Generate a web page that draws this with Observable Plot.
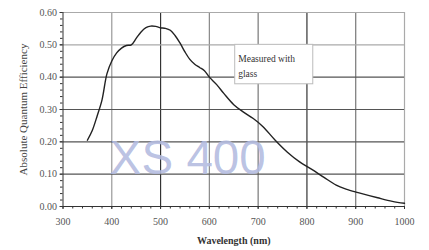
<!DOCTYPE html>
<html>
<head>
<meta charset="utf-8">
<script src="https://cdn.jsdelivr.net/npm/d3@7"></script>
<script src="https://cdn.jsdelivr.net/npm/@observablehq/plot@0.6"></script>
<style>
  html, body { margin: 0; padding: 0; background: #fff; }
  #chart svg { display: block; }
</style>
</head>
<body>
<div id="chart"></div>
<script>
// Wavelength (nm) and absolute quantum efficiency
const wavelength = [350, 360, 370, 380, 390, 400, 410, 420, 430, 440, 450, 460, 470, 480, 490, 500, 510, 520, 530, 540, 550, 560, 570, 580, 590, 600, 615, 630, 650, 670, 690, 710, 735, 760, 785, 810, 835, 860, 880, 905, 945, 975, 1000];
const efficiency = [0.205, 0.235, 0.28, 0.33, 0.41, 0.45, 0.475, 0.49, 0.498, 0.50, 0.52, 0.54, 0.553, 0.558, 0.557, 0.553, 0.551, 0.545, 0.528, 0.505, 0.478, 0.455, 0.44, 0.43, 0.42, 0.40, 0.377, 0.349, 0.315, 0.292, 0.272, 0.247, 0.205, 0.168, 0.138, 0.115, 0.09, 0.066, 0.054, 0.043, 0.027, 0.016, 0.010];

const xTicks = [300, 400, 500, 600, 700, 800, 900, 1000];
const yTicks = [0, 0.1, 0.2, 0.3, 0.4, 0.5, 0.6];
const xGridColor = ["#999", "#333", "#888", "#777", "#333", "#777", "#aaa"]; // 400..1000
const yGridColor = ["#555", "#555", "#555", "#555", "#aaa", "#aaa"];           // 0.1..0.6
const noteLines = "Measured with\nglass";
const noteBox = {x1: 653, x2: 813, y1: 0.378, y2: 0.50};
const watermark = {text: "XS 400", x: 396, y: 0.10};
const xLabel = "Wavelength (nm)";
const yLabel = "Absolute Quantum Efficiency";

const data = wavelength.map((w, i) => ({w, e: efficiency[i]}));
const xGrid = xTicks.slice(1).map((v, i) => ({v, c: xGridColor[i]}));
const yGrid = yTicks.slice(1).map((v, i) => ({v, c: yGridColor[i]}));

const serif = "'Liberation Serif', 'DejaVu Serif', serif";

const chart = Plot.plot({
  width: 429,
  height: 250,
  marginLeft: 62.5,
  marginRight: 25,
  marginTop: 12,
  marginBottom: 44,
  style: {fontFamily: serif, fontSize: "10px", color: "#444", background: "#fff"},
  x: {domain: [300, 1000]},
  y: {domain: [0, 0.6]},
  marks: [
    Plot.ruleX(xGrid, {x: "v", stroke: "c", strokeWidth: 1.2}),
    Plot.ruleY(yGrid, {y: "v", stroke: "c", strokeWidth: 1.2}),
    Plot.text([watermark], {x: "x", y: "y", text: "text", textAnchor: "start", lineAnchor: "bottom",
      fontSize: 47.5, fill: "#b3bbdf", fillOpacity: 0.9, fontFamily: "'Liberation Sans', Arial, sans-serif"}),
    Plot.rect([noteBox], {x1: "x1", x2: "x2", y1: "y1", y2: "y2", fill: "#fff", stroke: "#bbb", strokeWidth: 1}),
    Plot.text([noteBox], {x: "x1", y: "y2", text: () => noteLines, textAnchor: "start", lineAnchor: "top",
      dx: 3, dy: 6, fontSize: 9.5, fill: "#333", lineHeight: 1.6}),
    Plot.ruleX([300], {stroke: "#333", strokeWidth: 1}),
    Plot.ruleY([0], {stroke: "#333", strokeWidth: 1}),
    Plot.axisY(d3.range(0, 0.6001, 0.02), {anchor: "left", tickSize: 2.5, text: null, stroke: "#333"}),
    Plot.axisY(yTicks, {anchor: "left", tickSize: 3, tickPadding: 3, tickFormat: d3.format(".2f"),
      fill: "#555", label: null, stroke: "#333"}),
    Plot.axisX(d3.range(300, 1001, 20), {anchor: "bottom", tickSize: 2.5, text: null, stroke: "#333"}),
    Plot.axisX(xTicks, {anchor: "bottom", tickSize: 3, tickPadding: 8, tickFormat: d3.format("d"),
      fill: "#555", label: null, stroke: "#333"}),
    Plot.line(data, {x: "w", y: "e", curve: "catmull-rom", stroke: "#222", strokeWidth: 1.4}),
    Plot.text([xLabel], {frameAnchor: "bottom", dy: 37, fontWeight: "bold", fill: "#333", fontSize: 10}),
    Plot.text([yLabel], {frameAnchor: "left", textAnchor: "middle", rotate: -90, dx: -40, fill: "#444", fontSize: 11})
  ]
});
document.getElementById("chart").append(chart);
</script>
</body>
</html>
